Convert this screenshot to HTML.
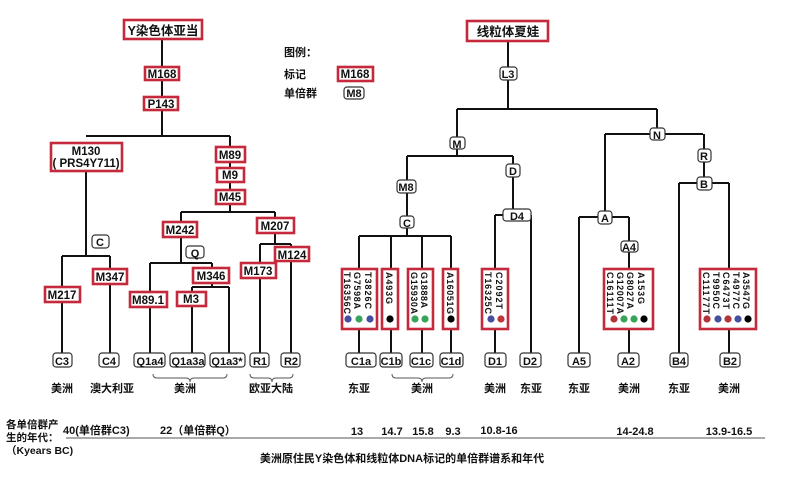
<!DOCTYPE html>
<html><head><meta charset="utf-8"><style>
body{margin:0;background:#fff}
svg{display:block}
text{font-family:"Liberation Sans","Noto Sans CJK SC",sans-serif;font-weight:bold;fill:#111}
.r{fill:#fff;stroke:#c42a3c;stroke-width:2.6}
.h{fill:#fff;stroke:#333;stroke-width:1.2}
.l{stroke:#111;stroke-width:2;fill:none}
.b{stroke:#555;stroke-width:1;fill:none}
.t{font-size:11.5px}
.s{font-size:9px}
.c{font-size:11px}
</style></head><body>
<svg width="793" height="482" viewBox="0 0 793 482" xmlns="http://www.w3.org/2000/svg">
<!-- LEFT TREE lines -->
<g class="l">
<path d="M162 39V136M86 136H230M86 171V256M62 256H110M62 256V353M110 256V353M230 136V212M181 212H275M181 212V263M150 263H212M150 263V353M212 263V287M192 287H229M192 287V353M229 287V353M275 212V244M260 244H291M260 244V353M291 244V353"/>
<!-- RIGHT TREE -->
<path d="M508 41V109M457 109H657M457 109V156M407 156H513M407 156V236M359 236H451M359 236V353M391 236V353M422 236V353M451 236V353M513 156V215M495 215H531M495 215V353M531 215V353M657 109V134M605 134H703M605 134V217M579 217H629M579 217V353M629 217V353M704 134V183M679 183H729M679 183V353M729 183V353"/>
</g>
<!-- left red boxes -->
<rect class="r" x="124" y="20" width="78" height="19"/><text x="163" y="35" text-anchor="middle" font-size="12.5">Y染色体亚当</text>
<rect class="r" x="145" y="67" width="34" height="13"/><text class="t" x="162" y="78" text-anchor="middle">M168</text>
<rect class="r" x="144" y="97" width="34" height="13"/><text class="t" x="161" y="108" text-anchor="middle">P143</text>
<rect class="r" x="51" y="143" width="71" height="28"/><text class="t" x="86" y="155" text-anchor="middle">M130</text><text class="t" x="86" y="167" text-anchor="middle">( PRS4Y711)</text>
<rect class="r" x="216" y="147" width="29" height="15"/><text class="t" x="230" y="159" text-anchor="middle">M89</text>
<rect class="r" x="217" y="168" width="27" height="14"/><text class="t" x="230" y="179" text-anchor="middle">M9</text>
<rect class="r" x="216" y="190" width="29" height="14"/><text class="t" x="230" y="201" text-anchor="middle">M45</text>
<rect class="r" x="163" y="222" width="34" height="15"/><text class="t" x="180" y="234" text-anchor="middle">M242</text>
<rect class="r" x="257" y="218" width="37" height="15"/><text class="t" x="275" y="230" text-anchor="middle">M207</text>
<rect class="r" x="45" y="287" width="35" height="15"/><text class="t" x="62" y="299" text-anchor="middle">M217</text>
<rect class="r" x="93" y="269" width="34" height="15"/><text class="t" x="110" y="281" text-anchor="middle">M347</text>
<rect class="r" x="130" y="292" width="37" height="15"/><text class="t" x="148" y="304" text-anchor="middle">M89.1</text>
<rect class="r" x="193" y="268" width="36" height="15"/><text class="t" x="211" y="280" text-anchor="middle">M346</text>
<rect class="r" x="177" y="292" width="29" height="14"/><text class="t" x="191" y="303" text-anchor="middle">M3</text>
<rect class="r" x="241" y="263" width="35" height="15"/><text class="t" x="258" y="275" text-anchor="middle">M173</text>
<rect class="r" x="275" y="247" width="34" height="14"/><text class="t" x="292" y="259" text-anchor="middle">M124</text>
<!-- left haplogroups -->
<g class="c" text-anchor="middle">
<rect class="h" x="92" y="235" width="17" height="13" rx="3"/><text x="100" y="246">C</text>
<rect class="h" x="186" y="246" width="18" height="12" rx="3"/><text x="195" y="257">Q</text>
<rect class="h" x="53" y="353" width="19" height="14" rx="3"/><text x="62" y="365">C3</text>
<rect class="h" x="99" y="353" width="20" height="14" rx="3"/><text x="109" y="365">C4</text>
<rect class="h" x="134" y="353" width="31" height="14" rx="3"/><text x="150" y="365">Q1a4</text>
<rect class="h" x="170" y="353" width="35" height="14" rx="3"/><text x="188" y="365">Q1a3a</text>
<rect class="h" x="210" y="353" width="35" height="14" rx="3"/><text x="227" y="365">Q1a3*</text>
<rect class="h" x="250" y="353" width="19" height="14" rx="3"/><text x="260" y="365">R1</text>
<rect class="h" x="281" y="353" width="19" height="14" rx="3"/><text x="291" y="365">R2</text>
</g>
<!-- braces -->
<path class="b" d="M153 374q0 4 4 4H186q4 0 4 4q0-4 4-4H223q4 0 4-4M250 374q0 4 4 4H268q4 0 4 4q0-4 4-4H289q4 0 4-4M392 374q0 4 4 4H418q4 0 4 4q0-4 4-4H449q4 0 4-4"/>
<g font-size="11" text-anchor="middle">
<text x="62" y="392">美洲</text><text x="112" y="392">澳大利亚</text><text x="185" y="392">美洲</text><text x="271" y="392">欧亚大陆</text>
<text x="359" y="392">东亚</text><text x="422" y="392">美洲</text><text x="495" y="392">美洲</text><text x="531" y="392">东亚</text><text x="579" y="392">东亚</text><text x="629" y="392">美洲</text><text x="679" y="392">东亚</text><text x="729" y="392">美洲</text>
</g>
<!-- legend -->
<text x="284" y="56" font-size="11">图例：</text>
<text x="284" y="78" font-size="11">标记</text>
<rect class="r" x="338" y="67" width="35" height="14"/><text class="t" x="355" y="78" text-anchor="middle">M168</text>
<text x="284" y="97" font-size="11">单倍群</text>
<rect class="h" x="344" y="87" width="20" height="12" rx="3"/><text class="c" x="354" y="97" text-anchor="middle">M8</text>
<!-- right -->
<rect class="r" x="467" y="21" width="81" height="20"/><text x="508" y="36" text-anchor="middle" font-size="12.5">线粒体夏娃</text>
<g class="c" text-anchor="middle">
<rect class="h" x="500" y="67" width="17" height="13" rx="3"/><text x="508" y="78">L3</text>
<rect class="h" x="450" y="137" width="15" height="12" rx="3"/><text x="457" y="148">M</text>
<rect class="h" x="506" y="164" width="14" height="13" rx="3"/><text x="513" y="175">D</text>
<rect class="h" x="503" y="209" width="28" height="12" rx="3"/><text x="517" y="220">D4</text>
<rect class="h" x="397" y="180" width="19" height="13" rx="3"/><text x="406" y="191">M8</text>
<rect class="h" x="400" y="216" width="14" height="12" rx="3"/><text x="407" y="227">C</text>
<rect class="h" x="650" y="128" width="15" height="12" rx="3"/><text x="657" y="139">N</text>
<rect class="h" x="698" y="149" width="13" height="13" rx="3"/><text x="704" y="160">R</text>
<rect class="h" x="697" y="177" width="15" height="13" rx="3"/><text x="704" y="188">B</text>
<rect class="h" x="598" y="211" width="14" height="13" rx="3"/><text x="605" y="222">A</text>
<rect class="h" x="621" y="241" width="17" height="11" rx="3"/><text x="629" y="251">A4</text>
<rect class="h" x="346" y="353" width="30" height="14" rx="3"/><text x="361" y="365">C1a</text>
<rect class="h" x="380" y="353" width="22" height="14" rx="3"/><text x="391" y="365">C1b</text>
<rect class="h" x="410" y="353" width="23" height="14" rx="3"/><text x="421" y="365">C1c</text>
<rect class="h" x="440" y="353" width="23" height="14" rx="3"/><text x="451" y="365">C1d</text>
<rect class="h" x="485" y="353" width="21" height="14" rx="3"/><text x="495" y="365">D1</text>
<rect class="h" x="520" y="353" width="21" height="14" rx="3"/><text x="530" y="365">D2</text>
<rect class="h" x="568" y="353" width="22" height="14" rx="3"/><text x="579" y="365">A5</text>
<rect class="h" x="618" y="353" width="21" height="14" rx="3"/><text x="628" y="365">A2</text>
<rect class="h" x="670" y="353" width="18" height="14" rx="3"/><text x="679" y="365">B4</text>
<rect class="h" x="720" y="353" width="20" height="14" rx="3"/><text x="730" y="365">B2</text>
</g>
<!-- marker boxes -->
<g class="s">
<rect class="r" x="342" y="269" width="35" height="60"/>
<text transform="translate(344,272) rotate(90)" textLength="42">T16356C</text>
<text transform="translate(354,272) rotate(90)" textLength="37">G7598A</text>
<text transform="translate(365,272) rotate(90)" textLength="37">T3826C</text>
<rect class="r" x="382" y="269" width="16" height="60"/>
<text transform="translate(386,272) rotate(90)" textLength="32">A493G</text>
<rect class="r" x="408" y="269" width="25" height="60"/>
<text transform="translate(411,272) rotate(90)" textLength="42">G15930A</text>
<text transform="translate(421,272) rotate(90)" textLength="36">G1888A</text>
<rect class="r" x="443" y="269" width="15" height="60"/>
<text transform="translate(447,272) rotate(90)" textLength="42">A16051G</text>
<rect class="r" x="482" y="269" width="26" height="60"/>
<text transform="translate(485,272) rotate(90)" textLength="42">T16325C</text>
<text transform="translate(496,272) rotate(90)" textLength="37">C2092T</text>
<rect class="r" x="604" y="269" width="49" height="60"/>
<text transform="translate(607,272) rotate(90)" textLength="42">C16111T</text>
<text transform="translate(617,272) rotate(90)" textLength="42">G12007A</text>
<text transform="translate(627,272) rotate(90)" textLength="37">G8027A</text>
<text transform="translate(638,272) rotate(90)" textLength="32">A153G</text>
<rect class="r" x="700" y="269" width="56" height="60"/>
<text transform="translate(703,272) rotate(90)" textLength="42">C11177T</text>
<text transform="translate(713,272) rotate(90)" textLength="37">T9950C</text>
<text transform="translate(723,272) rotate(90)" textLength="37">C6473T</text>
<text transform="translate(733,272) rotate(90)" textLength="37">T4977C</text>
<text transform="translate(743,272) rotate(90)" textLength="37">A3547G</text>
</g>
<g>
<circle cx="348" cy="319" r="3.6" fill="#44509f"/><circle cx="359" cy="319" r="3.6" fill="#3aa35a"/><circle cx="370" cy="319" r="3.6" fill="#44509f"/>
<circle cx="390" cy="319" r="3.6" fill="#000"/>
<circle cx="415" cy="319" r="3.6" fill="#3aa35a"/><circle cx="425" cy="319" r="3.6" fill="#3aa35a"/>
<circle cx="451" cy="319" r="3.6" fill="#000"/>
<circle cx="491" cy="319" r="3.6" fill="#44509f"/><circle cx="501" cy="319" r="3.6" fill="#c0343c"/>
<circle cx="614" cy="319" r="3.6" fill="#b0343c"/><circle cx="624" cy="319" r="3.6" fill="#3aa35a"/><circle cx="634" cy="319" r="3.6" fill="#3aa35a"/><circle cx="644" cy="319" r="3.6" fill="#000"/>
<circle cx="707" cy="319" r="3.6" fill="#b0343c"/><circle cx="718" cy="319" r="3.6" fill="#44509f"/><circle cx="728" cy="319" r="3.6" fill="#b0343c"/><circle cx="738" cy="319" r="3.6" fill="#44509f"/><circle cx="748" cy="319" r="3.6" fill="#000"/>
</g>
<!-- bottom -->
<text x="6" y="428" font-size="10.5">各单倍群产</text>
<text x="6" y="441" font-size="10.5">生的年代：</text>
<text x="6" y="454" font-size="10.5">（Kyears BC)</text>
<line x1="66" y1="438" x2="765" y2="438" stroke="#555" stroke-width="1"/>
<g font-size="11">
<text x="63" y="434">40(单倍群C3)</text>
<text x="160" y="434">22（单倍群Q）</text>
<text x="357" y="435" text-anchor="middle">13</text>
<text x="392" y="435" text-anchor="middle">14.7</text>
<text x="423" y="435" text-anchor="middle">15.8</text>
<text x="453" y="435" text-anchor="middle">9.3</text>
<text x="499" y="434" text-anchor="middle">10.8-16</text>
<text x="635" y="435" text-anchor="middle">14-24.8</text>
<text x="729" y="435" text-anchor="middle">13.9-16.5</text>
</g>
<text x="402" y="462" text-anchor="middle" font-size="11">美洲原住民Y染色体和线粒体DNA标记的单倍群谱系和年代</text>
</svg>
</body></html>
